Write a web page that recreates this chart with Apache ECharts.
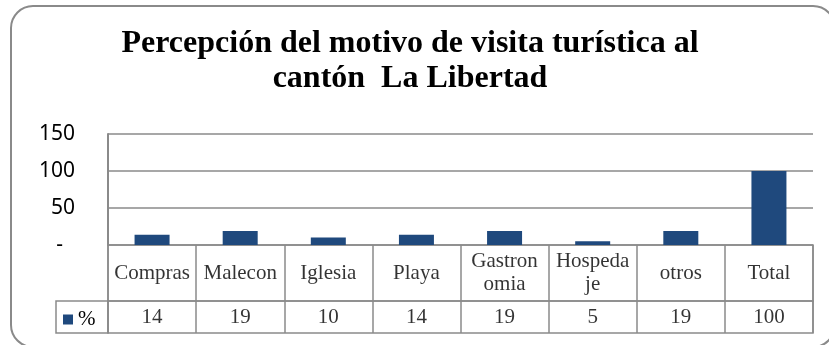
<!DOCTYPE html>
<html>
<head>
<meta charset="utf-8">
<script src="https://cdn.jsdelivr.net/npm/echarts@6/dist/echarts.min.js"></script>
<style>
  html, body { margin: 0; padding: 0; background: #fff; }
  #chart { width: 829px; height: 345px; }
</style>
</head>
<body>
<div id="chart"></div>
<script>
// Motivo de visita turística al cantón La Libertad (%)
const categories = ['Compras', 'Malecon', 'Iglesia', 'Playa', 'Gastron\nomia', 'Hospeda\nje', 'otros', 'Total'];
const percentValues = [14, 19, 10, 14, 19, 5, 19, 100];
const seriesName = '%';
const yTicks = [0, 50, 100, 150];

const BAR = '#1F497D';
const LINE = '#8a8a8a';
const SERIF = "'Liberation Serif', 'Times New Roman', serif";
const SANS = "'Noto Sans', 'Open Sans', sans-serif";

const chart = echarts.init(document.getElementById('chart'));

// one scatter point per table cell, only its label is visible
const cellPoints = categories.map((c, i) => [i, 0.5]);
const hiddenAxis = {
  show: false, type: 'value', min: 0, max: 1
};
const tableXAxis = (gridIndex) => ({
  type: 'category', gridIndex, data: categories,
  axisLine: { show: false }, axisTick: { show: false }, axisLabel: { show: false },
  splitLine: { show: true, interval: 0, lineStyle: { color: LINE, width: 1.5 } }
});
const cellLabel = (fmt) => ({
  show: true, position: 'inside', formatter: fmt,
  fontFamily: SERIF, fontSize: 21, lineHeight: 23, color: '#000'
});

chart.setOption({
  animation: false,
  title: {
    text: 'Percepción del motivo de visita turística al\ncantón  La Libertad',
    left: 405, top: 21, textAlign: 'center',
    textStyle: { fontFamily: SERIF, fontWeight: 'bold', fontSize: 32, lineHeight: 35, color: '#000' }
  },
  legend: {
    data: [seriesName], left: 63, top: 309, padding: 0, icon: 'rect',
    itemWidth: 10, itemHeight: 10,
    textStyle: { fontFamily: SERIF, fontSize: 21, color: '#000' },
    selectedMode: false
  },
  grid: [
    { left: 108, right: 16, top: 134, height: 111 },
    { left: 108, right: 16, top: 245, height: 56, show: true, borderColor: LINE, borderWidth: 1.5 },
    { left: 108, right: 16, top: 301, height: 32, show: true, borderColor: LINE, borderWidth: 1.5 }
  ],
  xAxis: [
    { type: 'category', gridIndex: 0, data: categories,
      axisLine: { show: false }, axisTick: { show: false }, axisLabel: { show: false } },
    tableXAxis(1),
    tableXAxis(2)
  ],
  yAxis: [
    { type: 'value', gridIndex: 0, min: yTicks[0], max: yTicks[yTicks.length - 1], interval: yTicks[1] - yTicks[0],
      axisLine: { show: true, lineStyle: { color: LINE, width: 2 } },
      axisTick: { show: false },
      splitLine: { show: true, lineStyle: { color: LINE, width: 1.5 } },
      axisLabel: {
        margin: 33, fontFamily: SANS, fontSize: 21, color: '#000',
        formatter: v => v === 0 ? '{z|-}' : String(v),
        rich: { z: { fontFamily: SANS, fontSize: 21, color: '#000', padding: [0, 12, 0, 0] } }
      } },
    Object.assign({ gridIndex: 1 }, hiddenAxis),
    Object.assign({ gridIndex: 2 }, hiddenAxis)
  ],
  graphic: [
    { type: 'rect', silent: true, z: 0,
      shape: { x: 11, y: 6, width: 824, height: 341, r: 22 },
      style: { fill: 'none', stroke: LINE, lineWidth: 2 } },
    { type: 'rect', silent: true, z: 0,
      shape: { x: 56, y: 301, width: 52, height: 32 },
      style: { fill: 'none', stroke: LINE, lineWidth: 1.5 } }
  ],
  series: [
    { name: seriesName, type: 'bar', xAxisIndex: 0, yAxisIndex: 0,
      data: percentValues, barWidth: 35, itemStyle: { color: BAR } },
    { type: 'scatter', xAxisIndex: 1, yAxisIndex: 1, data: cellPoints,
      symbolSize: 1, itemStyle: { color: 'rgba(0,0,0,0)' }, silent: true,
      label: cellLabel(p => categories[p.dataIndex]) },
    { type: 'scatter', xAxisIndex: 2, yAxisIndex: 2, data: cellPoints,
      symbolSize: 1, itemStyle: { color: 'rgba(0,0,0,0)' }, silent: true,
      label: cellLabel(p => String(percentValues[p.dataIndex])) }
  ]
});
</script>
</body>
</html>
